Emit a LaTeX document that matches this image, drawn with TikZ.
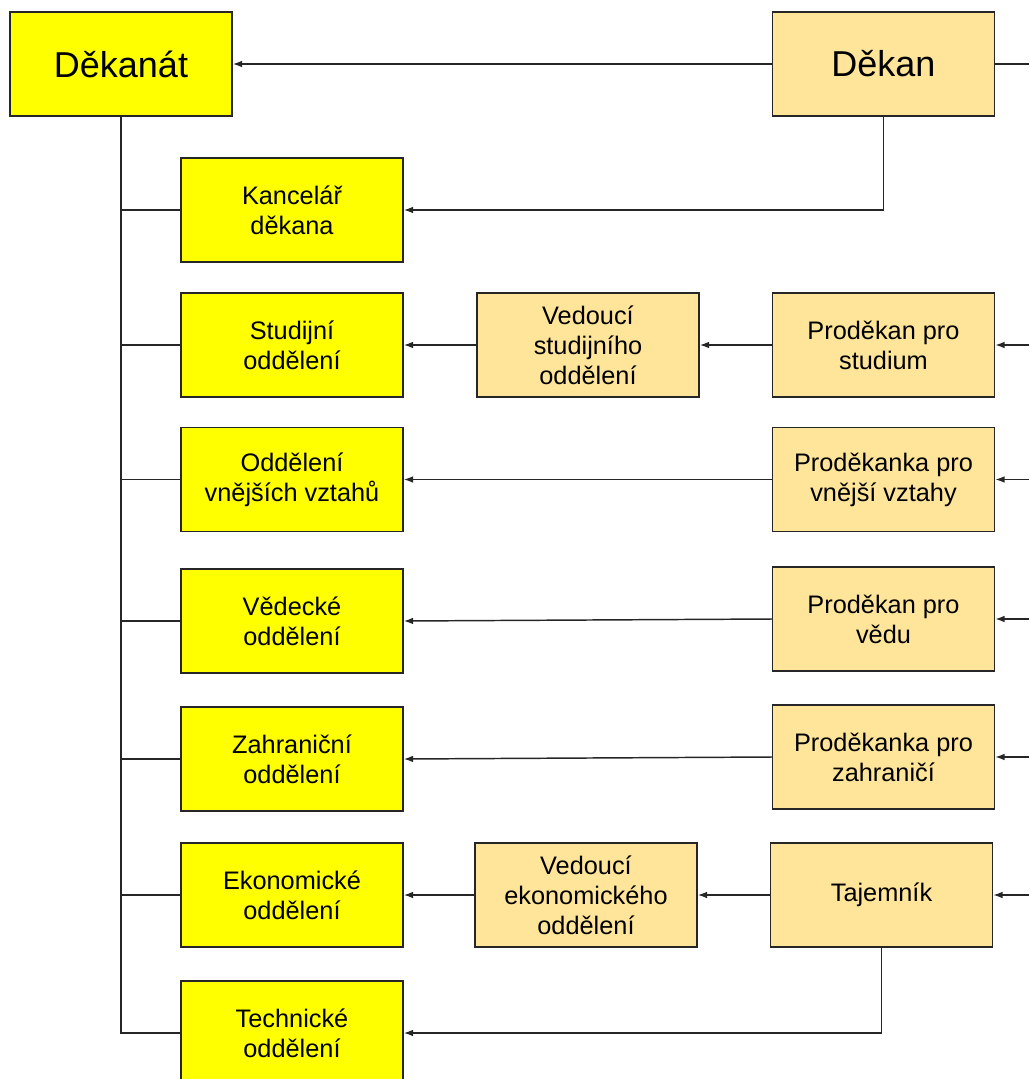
\documentclass[tikz,border=0pt]{standalone}
\usepackage{fontspec}
\setmainfont{Liberation Sans}
\usetikzlibrary{arrows.meta}
\definecolor{unitfill}{HTML}{FFFF00}
\definecolor{headfill}{HTML}{FFE599}
\begin{document}
\begin{tikzpicture}[x=0.75pt,y=0.75pt,yscale=-1,xscale=1,
  box/.style={draw=black!85,line width=1.1pt,minimum width=166.5pt,minimum height=78pt,align=center,inner sep=0pt,font=\fontsize{19}{22.5}\selectfont},
  unit/.style={box,fill=unitfill},
  head/.style={box,fill=headfill},
  link/.style={draw=black!85,line width=1.1pt},
  arr/.style={link,-{Latex[length=7pt,width=5pt]}}]
\useasboundingbox (0,0) rectangle (1029,1079);
\coordinate (rim) at (1029,0);
% top row
\node [unit,font=\fontsize{27}{32}\selectfont] (dekanat) at (121,64) {Děkanát};
\node [head,font=\fontsize{27}{32}\selectfont] (dekan) at (883.5,64) {Děkan};
% left column
\node [unit] (kancelar) at (292,210) {Kancelář\\děkana};
\node [unit] (studijni) at (292,345) {Studijní\\oddělení};
\node [unit] (vnejsi) at (292,479.5) {Oddělení\\vnějších vztahů};
\node [unit] (vedecke) at (292,621) {Vědecké\\oddělení};
\node [unit] (zahranicni) at (292,759) {Zahraniční\\oddělení};
\node [unit] (ekonom) at (292,895) {Ekonomické\\oddělení};
\node [unit] (technicke) at (292,1033) {Technické\\oddělení};
% middle column
\node [head] (vedstud) at (588,345) {Vedoucí\\studijního\\oddělení};
\node [head] (vedekon) at (586,895) {Vedoucí\\ekonomického\\oddělení};
% right column
\node [head] (prostud) at (883.5,345) {Proděkan pro\\studium};
\node [head] (provnejsi) at (883.5,479.5) {Proděkanka pro\\vnější vztahy};
\node [head] (provedu) at (883.5,619) {Proděkan pro\\vědu};
\node [head] (prozahr) at (883.5,757) {Proděkanka pro\\zahraničí};
\node [head] (tajemnik) at (881.5,895) {Tajemník};
% trunk
\draw [link] (dekanat.south) |- (technicke.west);
\foreach \u in {kancelar,studijni,vnejsi,vedecke,zahranicni,ekonom}
  \draw [link] (dekanat.south |- \u.west) -- (\u.west);
% arrows
\draw [arr] (dekan.west) -- (dekanat.east);
\draw [link] (dekan.east) -- (dekan.east -| rim);
\draw [arr] (dekan.south) |- (kancelar.east);
\draw [arr] (prostud.west) -- (vedstud.east);
\draw [arr] (vedstud.west) -- (studijni.east);
\draw [arr] (provnejsi.west) -- (vnejsi.east);
\draw [arr] (provedu.west) -- (vedecke.east);
\draw [arr] (prozahr.west) -- (zahranicni.east);
\draw [arr] (tajemnik.west) -- (vedekon.east);
\draw [arr] (vedekon.west) -- (ekonom.east);
\draw [arr] (tajemnik.south) |- (technicke.east);
\foreach \h in {prostud,provnejsi,provedu,prozahr,tajemnik}
  \draw [arr] (\h.east -| rim) -- (\h.east);
\end{tikzpicture}
\end{document}
